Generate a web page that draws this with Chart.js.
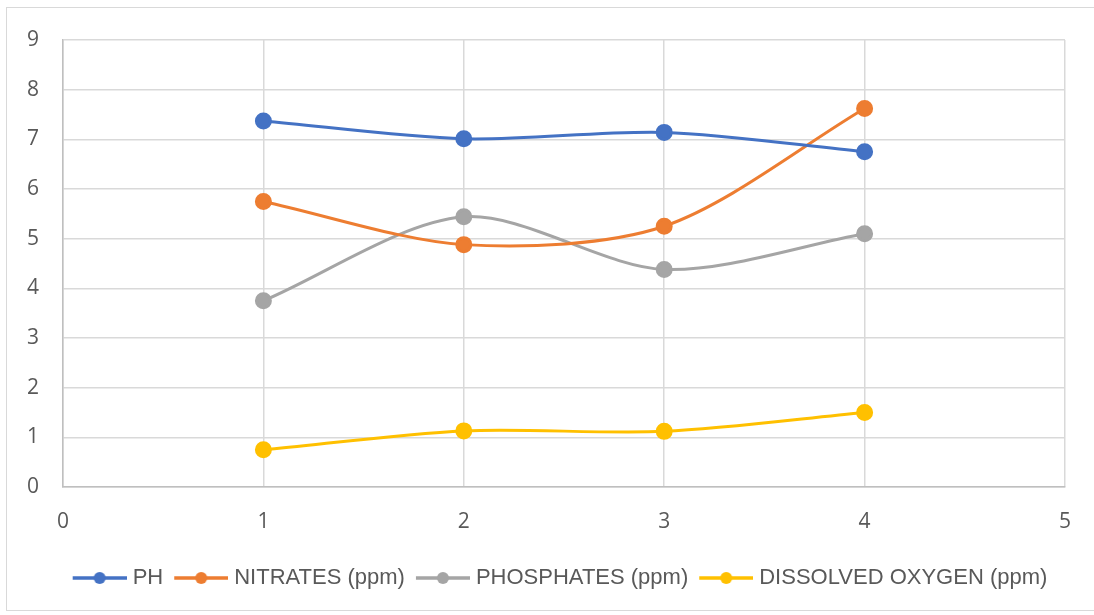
<!DOCTYPE html>
<html>
<head>
<meta charset="utf-8">
<script src="https://cdn.jsdelivr.net/npm/chart.js@4"></script>
<style>
  html, body { margin: 0; padding: 0; background: #fff; }
  #wrap { position: relative; width: 1094px; height: 615px; }
  #frame { position: absolute; left: 6px; top: 7px; width: 1090px; height: 604px; border: 1px solid #d9d9d9; box-sizing: border-box; }
  canvas { position: absolute; left: 0; top: 0; }
</style>
</head>
<body>
<div id="wrap">
  <div id="frame"></div>
  <canvas id="waterChart" width="1094" height="615"></canvas>
</div>
<script>
// sample numbers (x) and readings per series
var samples = [1, 2, 3, 4];
var ph = [7.37, 7.01, 7.14, 6.75];
var nitrates = [5.75, 4.88, 5.25, 7.62];
var phosphates = [3.75, 5.44, 4.38, 5.1];
var dissolvedOxygen = [0.75, 1.13, 1.12, 1.5];
var seriesNames = ['PH', 'NITRATES (ppm)', 'PHOSPHATES (ppm)', 'DISSOLVED OXYGEN (ppm)'];
var seriesColors = ['#4472C4', '#ED7D31', '#A5A5A5', '#FFC000'];

function toPoints(values) {
    return samples.map(function(x, i) { return { x: x, y: values[i] }; });
}

// legend marker: short line with a dot in the middle, like Excel
// (drawn in the right part of a wider canvas so the gap to the text is small)
function legendMarker(color) {
    var c = document.createElement('canvas');
    c.width = 66; c.height = 16;
    var g = c.getContext('2d');
    g.strokeStyle = color;
    g.lineWidth = 3.5;
    g.beginPath(); g.moveTo(12, 8); g.lineTo(66, 8); g.stroke();
    g.fillStyle = color;
    g.beginPath(); g.arc(39, 8, 6, 0, Math.PI * 2); g.fill();
    return c;
}

// nudge the legend to the right, as in the original
var legendShift = {
    id: 'legendShift',
    afterLayout: function(chart) {
        chart.legend.left += 24;
        chart.legend.right += 24;
    }
};

var allValues = [ph, nitrates, phosphates, dissolvedOxygen];
var datasets = allValues.map(function(vals, i) {
    return {
        label: seriesNames[i],
        data: toPoints(vals),
        borderColor: seriesColors[i],
        backgroundColor: seriesColors[i],
        borderWidth: 3,
        pointRadius: 7,
        pointHoverRadius: 7,
        showLine: true,
        tension: 0.3,
        pointStyle: 'circle'
    };
});

var ctx = document.getElementById('waterChart').getContext('2d');
var waterChart = new Chart(ctx, {
    type: 'scatter',
    data: { datasets: datasets },
    plugins: [legendShift],
    options: {
        responsive: false,
        animation: false,
        layout: { padding: { left: 0, right: 29, top: 40, bottom: 16 } },
        plugins: {
            tooltip: { enabled: false },
            legend: {
                position: 'bottom',
                labels: {
                    color: '#595959',
                    font: { family: "'Liberation Sans Narrow', 'Liberation Sans', sans-serif", size: 22 },
                    pointStyleWidth: 56,
                    padding: 4,
                    usePointStyle: true,
                    generateLabels: function(chart) {
                        return chart.data.datasets.map(function(ds, i) {
                            return {
                                text: ds.label,
                                fontColor: '#595959',
                                pointStyle: legendMarker(seriesColors[i]),
                                datasetIndex: i,
                                hidden: false,
                                lineWidth: 0
                            };
                        });
                    }
                }
            }
        },
        scales: {
            x: {
                type: 'linear',
                min: 0,
                max: 5,
                ticks: {
                    stepSize: 1,
                    color: '#595959',
                    padding: 22,
                    font: { family: "'Open Sans', sans-serif", size: 21 }
                },
                grid: { color: '#d9d9d9', lineWidth: 1.5, drawTicks: false },
                border: { color: '#bfbfbf', width: 1.5 },
                afterFit: function(scale) { scale.height = 76; }
            },
            y: {
                min: 0,
                max: 9,
                ticks: {
                    stepSize: 1,
                    color: '#595959',
                    padding: 24,
                    font: { family: "'Open Sans', sans-serif", size: 21 }
                },
                grid: { color: '#d9d9d9', lineWidth: 1.5, drawTicks: false },
                border: { color: '#bfbfbf', width: 1.5 },
                afterFit: function(scale) { scale.width = 63; }
            }
        }
    }
});
</script>
</body>
</html>
